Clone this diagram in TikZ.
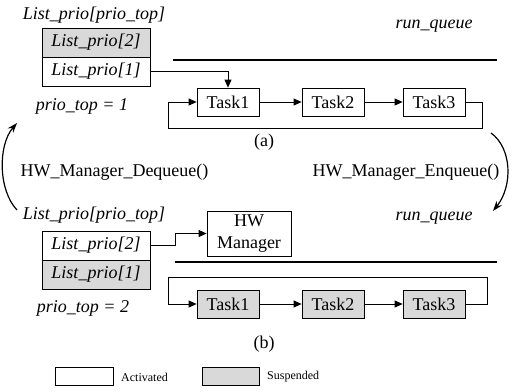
\documentclass[tikz,border=0pt]{standalone}
\usepackage{fontspec}
\setmainfont{Liberation Serif}
\usetikzlibrary{arrows.meta}
\begin{document}
\begin{tikzpicture}[x=1pt,y=-1pt,
  every node/.style={font=\fontsize{18}{22}\selectfont, inner sep=0pt},
  lab/.style={font=\fontsize{18}{22}\selectfont\itshape},
  lbox/.style={draw, line width=0.8pt, minimum width=108pt, minimum height=29pt, font=\fontsize{18}{22}\selectfont\itshape},
  task/.style={draw, line width=0.8pt, minimum width=62pt, minimum height=28pt},
  susp/.style={fill=black!15},
  conn/.style={line width=0.8pt, -{Triangle[length=8pt,width=7pt]}},
  bar/.style={line width=1.5pt},
  arc/.style={line width=1.2pt, -{Stealth[length=10pt,width=7pt]}},
  small/.style={font=\fontsize{12}{14}\selectfont}]
\useasboundingbox (0,0) rectangle (513,391);
% ---- (a)
\node[lab] (lpta) at (94,15) {List\_prio[prio\_top]};
\node[lbox, susp] (lp2a) at (96,42.5) {List\_prio[2]};
\node[lbox] (lp1a) at (96,71.5) {List\_prio[1]};
\node[lab] (pta) at (82,106) {prio\_top = 1};
\node[lab] (rqa) at (434,26) {run\_queue};
\coordinate (bara1) at (173,60);
\coordinate (bara2) at (497,60);
\draw[bar] (bara1) -- (bara2);
\node[task] (t1a) at (228,102) {Task1};
\node[task] (t2a) at (333,102) {Task2};
\node[task] (t3a) at (434,102) {Task3};
\draw[conn] (lp1a.east) -| (t1a.north);
\draw[conn] (t1a) -- (t2a);
\draw[conn] (t2a) -- (t3a);
\draw[conn] (t3a.east) -- ++(17,0) -- ++(0,26) -- ++(-314,0) |- (t1a.west);
\node (capa) at (264,142) {(a)};
% ---- transitions
\coordinate (dq1) at (17,210);
\coordinate (dq2) at (17,123);
\draw[arc] (dq1) .. controls (-2,190) and (-2,145) .. (dq2);
\node (dq) at (114.5,172) {HW\_Manager\_Dequeue()};
\coordinate (eq1) at (491,133);
\coordinate (eq2) at (493,211);
\draw[arc] (eq1) .. controls (512,148) and (513,186) .. (eq2);
\node (eq) at (406,172) {HW\_Manager\_Enqueue()};
% ---- (b)
\node[lab] (lptb) at (94,215) {List\_prio[prio\_top]};
\node[lbox] (lp2b) at (96,245.5) {List\_prio[2]};
\node[lbox, susp] (lp1b) at (96,274.5) {List\_prio[1]};
\node[lab] (ptb) at (83,308) {prio\_top = 2};
\node[lab] (rqb) at (434,218) {run\_queue};
\node[task, minimum width=84pt, minimum height=45pt, align=center] (hw) at (249,233.5) {HW\\Manager};
\draw[conn] (lp2b.east) -- ++(25,0) |- (hw.west);
\coordinate (barb1) at (175,262);
\coordinate (barb2) at (497,262);
\draw[bar] (barb1) -- (barb2);
\node[task, susp] (t1b) at (228,304) {Task1};
\node[task, susp] (t2b) at (333,304) {Task2};
\node[task, susp] (t3b) at (434,304) {Task3};
\draw[conn] (t1b) -- (t2b);
\draw[conn] (t2b) -- (t3b);
\draw[conn] (t3b.east) -- ++(22,0) -- ++(0,-27) -- ++(-319,0) |- (t1b.west);
\node (capb) at (264,344) {(b)};
% ---- legend
\node[draw, line width=0.8pt, minimum width=58pt, minimum height=18pt] (lga) at (84,376) {};
\node[small, anchor=west] (lgat) at (121,377) {Activated};
\node[draw, susp, line width=0.8pt, minimum width=57pt, minimum height=18pt] (lgs) at (230.5,376) {};
\node[small, anchor=west] (lgst) at (267,377) {Suspended};
\end{tikzpicture}
\end{document}
